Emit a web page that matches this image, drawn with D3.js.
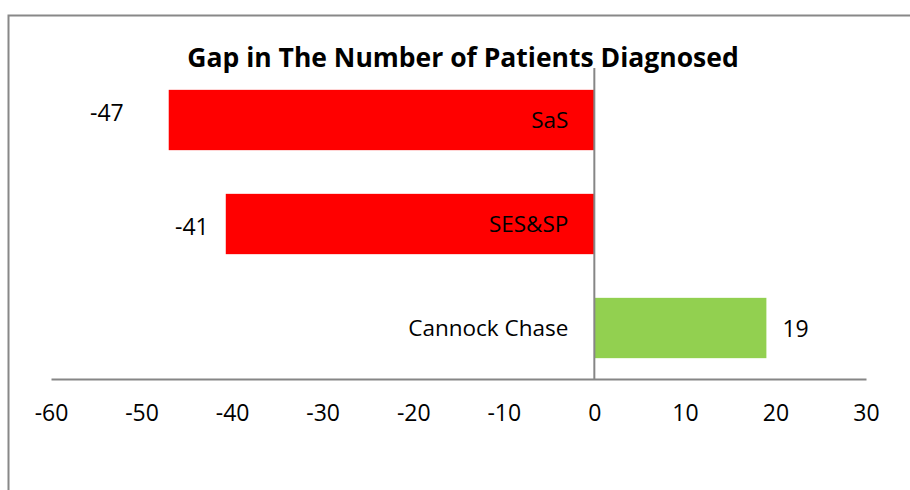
<!DOCTYPE html>
<html>
<head>
<meta charset="utf-8">
<script src="https://cdn.jsdelivr.net/npm/d3@7"></script>
<style>
  html, body { margin: 0; padding: 0; background: #fff; }
  svg { display: block; }
  text { font-family: "Open Sans", "Noto Sans", sans-serif; fill: #000; }
</style>
</head>
<body>
<svg id="chart" width="910" height="490"></svg>
<script>
// ---- data ----
const categories = ["SaS", "SES&SP", "Cannock Chase"];
const values = [-47, -40.7, 19];
const valueLabels = ["-47", "-41", "19"];
const xTicks = [-60, -50, -40, -30, -20, -10, 0, 10, 20, 30];
const title = "Gap in The Number of Patients Diagnosed";

// ---- layout ----
const W = 910, H = 490;
const svg = d3.select("#chart");
const plot = { left: 51, right: 866, top: 68, bottom: 380 };

// chart frame (top and left edges visible)
svg.append("path")
  .attr("d", `M8.5,${H} L8.5,15.5 L${W},15.5`)
  .attr("fill", "none").attr("stroke", "#888").attr("stroke-width", 2);

svg.append("text")
  .attr("x", 463).attr("y", 67)
  .attr("text-anchor", "middle")
  .attr("font-weight", "bold")
  .attr("font-size", 26.5)
  .text(title);

const x = d3.scaleLinear().domain([-60, 30]).range([plot.left, plot.right]);
const y = d3.scaleBand().domain(categories).range([plot.top, plot.bottom]).paddingInner(0.42).paddingOuter(0.21);

const colorFor = v => v < 0 ? "#FF0000" : "#92D050";

// bars
svg.append("g").selectAll("rect")
  .data(categories)
  .join("rect")
  .attr("x", (d, i) => x(Math.min(0, values[i])))
  .attr("y", d => y(d))
  .attr("width", (d, i) => Math.abs(x(values[i]) - x(0)))
  .attr("height", y.bandwidth())
  .attr("fill", (d, i) => colorFor(values[i]));

// x axis
const xAxis = d3.axisBottom(x).tickValues(xTicks).tickSize(0).tickPadding(26).tickFormat(d => String(d));
const gx = svg.append("g").attr("transform", `translate(0,${plot.bottom - 1})`).call(xAxis);
gx.select(".domain").attr("stroke", "#868686").attr("stroke-width", 2);
gx.selectAll("text").attr("font-size", 23).attr("font-family", "'Open Sans', sans-serif").attr("fill", "#000");

// zero (category) axis line
svg.append("line")
  .attr("x1", x(0)).attr("x2", x(0))
  .attr("y1", plot.top).attr("y2", plot.bottom - 1)
  .attr("stroke", "#868686").attr("stroke-width", 2);

// category labels (right-aligned left of zero line)
svg.append("g").selectAll("text")
  .data(categories)
  .join("text")
  .attr("x", x(0) - 26)
  .attr("y", d => y(d) + y.bandwidth() / 2)
  .attr("dy", "0.35em")
  .attr("text-anchor", "end")
  .attr("font-size", 22.5)
  .text(d => d);

// value labels
const labelNudge = [[-28, -7], [0, 3], [0, 1]];
svg.append("g").selectAll("text")
  .data(categories)
  .join("text")
  .attr("x", (d, i) => x(values[i]) + (values[i] < 0 ? -17 : 16) + labelNudge[i][0])
  .attr("y", (d, i) => y(d) + y.bandwidth() / 2 + labelNudge[i][1])
  .attr("dy", "0.35em")
  .attr("text-anchor", (d, i) => values[i] < 0 ? "end" : "start")
  .attr("font-size", 23)
  .text((d, i) => valueLabels[i]);
</script>
</body>
</html>
